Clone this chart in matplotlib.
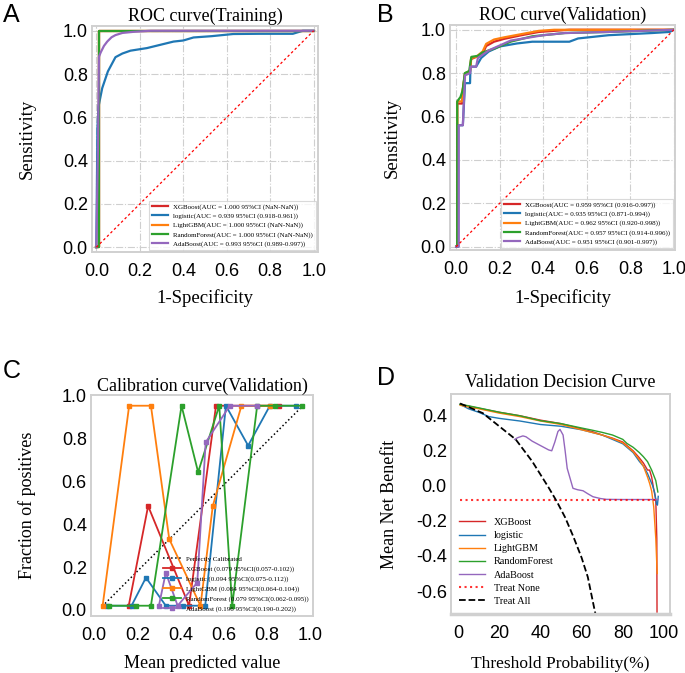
import numpy as np
import matplotlib
matplotlib.use("Agg")
import matplotlib.pyplot as plt

plt.rcParams['axes.unicode_minus'] = False
SERIF = 'Liberation Serif'
SANS = 'Liberation Sans'

models = ['XGBoost', 'logistic', 'LightGBM', 'RandomForest', 'AdaBoost']
colors = ['#d62728', '#1f77b4', '#ff7f0e', '#2ca02c', '#9467bd']

# ---- A: ROC training ----
roc_tr_x = {
    'XGBoost': [0, 0.01, 0.01, 1.0],
    'logistic': [0, 0.005, 0.01, 0.027, 0.053, 0.088, 0.12, 0.157, 0.233, 0.294, 0.355, 0.40, 0.447, 0.53, 0.63, 0.75, 0.904, 0.95, 1.0],
    'LightGBM': [0, 0.01, 0.01, 1.0],
    'RandomForest': [0, 0.01, 0.01, 1.0],
    'AdaBoost': [0, 0.008, 0.012, 0.02, 0.035, 0.05, 0.07, 0.088, 0.12, 0.17, 0.25, 1.0],
}
roc_tr_y = {
    'XGBoost': [0, 0, 1.0, 1.0],
    'logistic': [0, 0.55, 0.65, 0.735, 0.812, 0.878, 0.895, 0.908, 0.92, 0.935, 0.95, 0.955, 0.969, 0.975, 0.985, 0.986, 0.986, 1.0, 1.0],
    'LightGBM': [0, 0, 1.0, 1.0],
    'RandomForest': [0, 0, 1.0, 1.0],
    'AdaBoost': [0, 0.5, 0.88, 0.90, 0.93, 0.95, 0.97, 0.98, 0.99, 0.995, 1.0, 1.0],
}
roc_tr_labels = [
    'XGBoost(AUC = 1.000 95%CI (NaN-NaN))',
    'logistic(AUC = 0.939 95%CI (0.918-0.961))',
    'LightGBM(AUC = 1.000 95%CI (NaN-NaN))',
    'RandomForest(AUC = 1.000 95%CI (NaN-NaN))',
    'AdaBoost(AUC = 0.993 95%CI (0.989-0.997))',
]

# ---- B: ROC validation ----
roc_va_x = {
    'XGBoost': [0, 0.005, 0.005, 0.028, 0.03, 0.041, 0.064, 0.069, 0.092, 0.122, 0.138, 0.174, 0.22, 0.30, 0.38, 0.52, 0.7, 1.0],
    'logistic': [0, 0.01, 0.01, 0.031, 0.041, 0.064, 0.066, 0.092, 0.115, 0.15, 0.2, 0.28, 0.35, 0.52, 0.56, 0.7, 0.9, 0.98, 1.0],
    'LightGBM': [0, 0.005, 0.005, 0.028, 0.03, 0.041, 0.064, 0.069, 0.092, 0.122, 0.138, 0.174, 0.22, 0.30, 0.38, 0.45, 1.0],
    'RandomForest': [0, 0.005, 0.005, 0.02, 0.03, 0.04, 0.06, 0.07, 0.1, 0.12, 0.18, 0.25, 0.35, 0.5, 0.7, 1.0],
    'AdaBoost': [0, 0.012, 0.012, 0.031, 0.041, 0.064, 0.066, 0.092, 0.1, 0.15, 0.25, 0.4, 0.5, 0.7, 1.0],
}
roc_va_y = {
    'XGBoost': [0, 0, 0.66, 0.66, 0.72, 0.795, 0.806, 0.865, 0.875, 0.89, 0.925, 0.945, 0.958, 0.975, 0.99, 1.0, 1.0, 1.0],
    'logistic': [0, 0, 0.56, 0.56, 0.754, 0.754, 0.83, 0.83, 0.87, 0.9, 0.923, 0.937, 0.945, 0.945, 0.96, 0.975, 0.985, 0.99, 1.0],
    'LightGBM': [0, 0, 0.67, 0.67, 0.72, 0.80, 0.81, 0.87, 0.875, 0.90, 0.935, 0.955, 0.965, 0.98, 0.995, 1.0, 1.0],
    'RandomForest': [0, 0, 0.67, 0.69, 0.72, 0.80, 0.81, 0.875, 0.88, 0.895, 0.915, 0.945, 0.97, 0.985, 0.99, 1.0],
    'AdaBoost': [0, 0, 0.56, 0.56, 0.79, 0.80, 0.83, 0.83, 0.87, 0.905, 0.95, 0.975, 0.985, 0.99, 1.0],
}
roc_va_labels = [
    'XGBoost(AUC = 0.959 95%CI (0.916-0.997))',
    'logistic(AUC = 0.935 95%CI (0.871-0.994))',
    'LightGBM(AUC = 0.962 95%CI (0.920-0.998))',
    'RandomForest(AUC = 0.957 95%CI (0.914-0.996))',
    'AdaBoost(AUC = 0.951 95%CI (0.901-0.997))',
]

# ---- C: calibration ----
cal_x = {
    'XGBoost': [0.16, 0.25, 0.44, 0.565, 0.855],
    'logistic': [0.06, 0.173, 0.24, 0.332, 0.41, 0.515, 0.611, 0.714, 0.815, 0.938],
    'LightGBM': [0.039, 0.162, 0.263, 0.348, 0.493, 0.55, 0.683, 0.815],
    'RandomForest': [0.07, 0.193, 0.263, 0.405, 0.482, 0.58, 0.64, 0.756, 0.838, 0.964],
    'AdaBoost': [0.30, 0.332, 0.387, 0.478, 0.517, 0.629, 0.756],
}
cal_y = {
    'XGBoost': [0.02, 0.485, 0.02, 0.953, 0.953],
    'logistic': [0.02, 0.02, 0.151, 0.02, 0.02, 0.02, 0.953, 0.767, 0.953, 0.953],
    'LightGBM': [0.02, 0.953, 0.953, 0.331, 0.02, 0.485, 0.953, 0.953],
    'RandomForest': [0.02, 0.02, 0.02, 0.953, 0.643, 0.953, 0.02, 0.953, 0.953, 0.953],
    'AdaBoost': [0.02, 0.174, 0.02, 0.128, 0.782, 0.953, 0.953],
}
cal_labels = [
    'XGBoost (0.079 95%CI(0.057-0.102))',
    'logistic (0.094 95%CI(0.075-0.112))',
    'LightGBM (0.084 95%CI(0.064-0.104))',
    'RandomForest (0.079 95%CI(0.062-0.095))',
    'AdaBoost (0.196 95%CI(0.190-0.202))',
]
perfect_x = [0.05, 0.965]
perfect_y = [0.03, 0.95]

# ---- D: decision curve ----
dca_x = {
    'XGBoost': [1, 5, 10, 20, 30, 40, 50, 60, 65, 70, 75, 80, 85, 88, 90, 92, 93, 94, 95, 96, 96.5, 96.6],
    'logistic': [1, 5, 10, 15, 20, 30, 40, 50, 60, 65, 70, 75, 80, 85, 88, 90, 92, 93, 94.5, 95.5, 96.3, 96.8, 97.2],
    'LightGBM': [1, 5, 10, 20, 30, 40, 50, 60, 65, 70, 75, 80, 85, 88, 90, 92, 93, 94, 95, 96, 96.5, 96.7],
    'RandomForest': [1, 5, 10, 20, 30, 40, 50, 60, 65, 70, 75, 80, 82, 85, 88, 90, 92, 94, 95, 96, 97],
    'AdaBoost': [27.5, 29, 31.5, 33, 36, 40, 44, 45.5, 47, 48.5, 49.5, 51, 52, 53, 55.8, 58, 60.7, 63, 65.5, 69, 72, 80, 90, 97],
}
dca_y = {
    'XGBoost': [0.465, 0.455, 0.443, 0.42, 0.40, 0.375, 0.355, 0.325, 0.31, 0.29, 0.272, 0.25, 0.20, 0.16, 0.13, 0.09, 0.09, 0.05, -0.02, -0.08, -0.3, -0.72],
    'logistic': [0.465, 0.44, 0.42, 0.395, 0.385, 0.37, 0.35, 0.34, 0.32, 0.305, 0.29, 0.265, 0.24, 0.19, 0.14, 0.112, 0.07, 0.042, 0.0, -0.04, -0.1, -0.11, -0.06],
    'LightGBM': [0.46, 0.45, 0.44, 0.415, 0.395, 0.37, 0.35, 0.32, 0.305, 0.29, 0.27, 0.245, 0.195, 0.15, 0.112, 0.05, 0.014, -0.03, -0.12, -0.3, -0.45, -0.5],
    'RandomForest': [0.465, 0.457, 0.445, 0.42, 0.40, 0.372, 0.355, 0.33, 0.318, 0.305, 0.29, 0.265, 0.242, 0.22, 0.19, 0.166, 0.138, 0.09, 0.06, 0.03, -0.035],
    'AdaBoost': [0.265, 0.275, 0.285, 0.28, 0.255, 0.23, 0.205, 0.2, 0.25, 0.31, 0.322, 0.29, 0.2, 0.1, -0.014, -0.022, -0.028, -0.045, -0.062, -0.072, -0.077, -0.078, -0.078, -0.078],
}
treat_none_x = [1, 97]
treat_none_y = [-0.078, -0.078]
treat_all_x = [1, 5, 12, 20, 28, 36, 44, 48, 52, 56, 60, 63, 66.5, 68]
treat_all_y = [0.47, 0.45, 0.415, 0.34, 0.265, 0.14, -0.01, -0.09, -0.18, -0.29, -0.41, -0.52, -0.72, -0.78]

fig = plt.figure(figsize=(6.85, 6.73), dpi=100)

def px_axes(l, t, r, b):
    W, H = 685.0, 673.0
    return fig.add_axes([l / W, 1 - b / H, (r - l) / W, (b - t) / H])

def style(ax, grid):
    for s in ax.spines.values():
        s.set_color('#d0d0d0')
        s.set_linewidth(1.4)
    ax.tick_params(length=0, labelsize=13)
    ax.tick_params(axis='x', pad=8)
    ax.tick_params(axis='y', pad=3)
    for lab in ax.get_xticklabels() + ax.get_yticklabels():
        lab.set_fontfamily(SANS)
    if grid:
        ax.grid(True, linestyle='-.', color='#cfcfcf', linewidth=0.8)
        ax.set_axisbelow(True)

def roc_panel(ax, xs, ys, labels, title, lx, ly):
    for m, c, lab in zip(models, colors, labels):
        ax.plot(xs[m], ys[m], color=c, lw=1.6, label=lab)
    ax.plot([0, 1], [0, 1], color='red', lw=0.9, linestyle=(0, (2, 2)))
    ax.set_xticks(np.arange(0, 1.01, 0.2))
    ax.set_yticks(np.arange(0, 1.01, 0.2))
    ax.set_xticklabels(['%.1f' % v for v in np.arange(0, 1.01, 0.2)])
    ax.set_yticklabels(['%.1f' % v for v in np.arange(0, 1.01, 0.2)])
    style(ax, True)
    ax.set_title(title, fontfamily=SERIF, fontsize=13, pad=4)
    ax.set_xlabel('1-Specificity', fontfamily=SERIF, fontsize=13.5)
    ax.set_ylabel('Sensitivity', fontfamily=SERIF, fontsize=13.5)
    ax.xaxis.set_label_coords(0.5, lx)
    ax.yaxis.set_label_coords(ly, 0.5)
    leg = ax.legend(loc='lower right', prop={'family': SERIF, 'size': 5.0},
                    frameon=True, fancybox=False, edgecolor='#d0d0d0',
                    borderaxespad=0.3, handlelength=2.3, labelspacing=0.45,
                    borderpad=0.4)
    leg.get_frame().set_linewidth(0.8)

axA = px_axes(92, 26, 318, 252)
axA.set_xlim(-0.02, 1.02)
axA.set_ylim(-0.022, 1.022)
roc_panel(axA, roc_tr_x, roc_tr_y, roc_tr_labels, 'ROC curve(Training)', -0.165, -0.25)

axB = px_axes(450, 25, 675, 250)
axB.set_xlim(-0.028, 1.005)
axB.set_ylim(-0.015, 1.022)
roc_panel(axB, roc_va_x, roc_va_y, roc_va_labels, 'ROC curve(Validation)', -0.175, -0.22)

# ---- C ----
axC = px_axes(91, 395, 313, 616)
axC.plot(perfect_x, perfect_y, 'k:', lw=1.1, label='Perfectly Calibrated')
for m, c, lab in zip(models, colors, cal_labels):
    axC.plot(cal_x[m], cal_y[m], color=c, lw=1.3, marker='s', markersize=3.5, label=lab)
axC.set_xlim(-0.015, 1.015)
axC.set_ylim(-0.028, 1.003)
axC.set_xticks(np.arange(0, 1.01, 0.2))
axC.set_yticks(np.arange(0, 1.01, 0.2))
axC.set_xticklabels(['%.1f' % v for v in np.arange(0, 1.01, 0.2)])
axC.set_yticklabels(['%.1f' % v for v in np.arange(0, 1.01, 0.2)])
style(axC, False)
axC.set_title('Calibration curve(Validation)', fontfamily=SERIF, fontsize=13, pad=3)
axC.set_xlabel('Mean predicted value', fontfamily=SERIF, fontsize=13)
axC.set_ylabel('Fraction of positives', fontfamily=SERIF, fontsize=13)
axC.xaxis.set_label_coords(0.5, -0.175)
axC.yaxis.set_label_coords(-0.25, 0.5)
axC.legend(loc='lower right', prop={'family': SERIF, 'size': 5.0}, frameon=False,
           borderaxespad=0.2, handlelength=2.6, labelspacing=0.55)

# ---- D ----
axD = px_axes(451, 394, 670, 614)
for m, c in zip(models, colors):
    axD.plot(dca_x[m], dca_y[m], color=c, lw=1.0, label=m)
axD.plot(treat_none_x, treat_none_y, color='red', linestyle=':', lw=1.5, alpha=0.8, label='Treat None')
axD.plot(treat_all_x, treat_all_y, color='black', linestyle='--', lw=1.3, label='Treat All')
axD.set_xlim(-3.4, 102.9)
axD.set_ylim(-0.731, 0.524)
axD.set_xticks([0, 20, 40, 60, 80, 100])
axD.set_yticks([-0.6, -0.4, -0.2, 0.0, 0.2, 0.4])
axD.set_yticklabels(['-0.6', '-0.4', '-0.2', '0.0', '0.2', '0.4'])
style(axD, False)
axD.spines['bottom'].set_linewidth(2.5)
axD.set_title('Validation Decision Curve', fontfamily=SERIF, fontsize=13, pad=5)
axD.set_xlabel('Threshold Probability(%)', fontfamily=SERIF, fontsize=12.5)
axD.set_ylabel('Mean Net Benefit', fontfamily=SERIF, fontsize=13)
axD.xaxis.set_label_coords(0.5, -0.19)
axD.yaxis.set_label_coords(-0.24, 0.5)
axD.legend(loc='lower left', prop={'family': SERIF, 'size': 7.3}, frameon=False,
           bbox_to_anchor=(0.0, 0.0), borderaxespad=0.4, handlelength=2.6,
           labelspacing=0.4)

for lbl, x, y in [('A', 3, 3), ('B', 377, 3), ('C', 3, 359), ('D', 377, 366)]:
    fig.text(x / 685, 1 - y / 673, lbl, fontfamily=SANS, fontsize=18, va='top', ha='left')

fig.savefig('out.png', dpi=100)
